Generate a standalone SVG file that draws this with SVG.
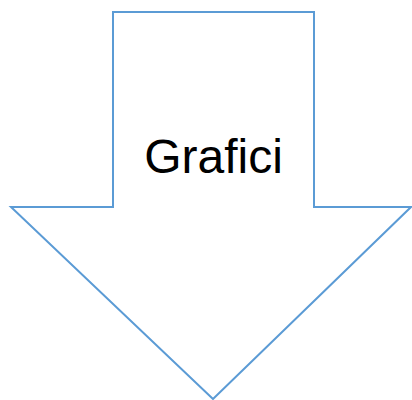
<svg xmlns="http://www.w3.org/2000/svg" width="412" height="400" viewBox="0 0 412 400">
<style>
.arrow{fill:#FFFFFF;stroke:#5B9BD5;stroke-width:2;stroke-linejoin:miter}
.label{font-family:"Liberation Sans",Arial,sans-serif;font-size:48px;fill:#000000}
</style>
<rect width="412" height="400" fill="#FFFFFF"/>
<g id="arrow-node">
<polygon class="arrow" points="113,12 314,12 314,207 411,207 213,399 11,207 113,207"/>
<text class="label" x="213.5" y="173" text-anchor="middle">Grafici</text>
</g>
</svg>
